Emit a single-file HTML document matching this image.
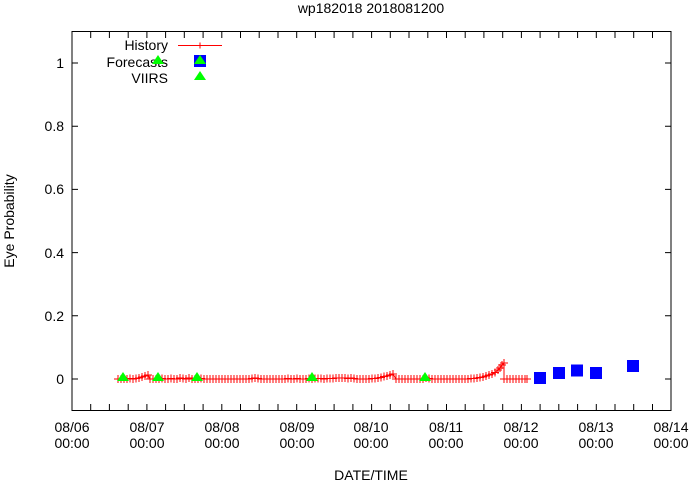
<!DOCTYPE html>
<html><head><meta charset="utf-8"><style>
body{margin:0;background:#fff}
svg{display:block;font-family:"Liberation Sans",sans-serif;font-size:14px}
</style></head><body>
<svg width="691" height="482" viewBox="0 0 691 482" xmlns="http://www.w3.org/2000/svg">
<defs>
<marker id="p" markerWidth="8" markerHeight="8" refX="4" refY="4" markerUnits="userSpaceOnUse">
<path d="M0 4H8M4 0V8" stroke="#f00" stroke-width="1"/>
</marker>
</defs>
<text x="371" y="13" text-anchor="middle">wp182018 2018081200</text>
<rect x="72" y="31.5" width="599" height="379" fill="none" stroke="#000" stroke-width="1"/>
<g stroke="#000" stroke-width="1">
<path d="M72 379h6M671 379h-6M72 315.8h6M671 315.8h-6M72 252.6h6M671 252.6h-6M72 189.4h6M671 189.4h-6M72 126.2h6M671 126.2h-6M72 63h6M671 63h-6"/>
<path d="M72 410v-6M90.7 410v-6M109.4 410v-6M128.2 410v-6M146.9 410v-6M165.6 410v-6M184.3 410v-6M203.1 410v-6M221.8 410v-6M240.5 410v-6M259.2 410v-6M278 410v-6M296.7 410v-6M315.4 410v-6M334.1 410v-6M352.9 410v-6M371.6 410v-6M390.3 410v-6M409 410v-6M427.8 410v-6M446.5 410v-6M465.2 410v-6M483.9 410v-6M502.7 410v-6M521.4 410v-6M540.1 410v-6M558.8 410v-6M577.6 410v-6M596.3 410v-6M615 410v-6M633.7 410v-6M652.5 410v-6"/>
<path d="M90.7 32v6M109.4 32v6M128.2 32v6M146.9 32v6M165.6 32v6M184.3 32v6M203.1 32v6M221.8 32v6M240.5 32v6M259.2 32v6M278 32v6M296.7 32v6M315.4 32v6M334.1 32v6M352.9 32v6M371.6 32v6M390.3 32v6M409 32v6M427.8 32v6M446.5 32v6M465.2 32v6M483.9 32v6M502.7 32v6M521.4 32v6M540.1 32v6M558.8 32v6M577.6 32v6M596.3 32v6M615 32v6M633.7 32v6M652.5 32v6"/>
</g>
<g text-anchor="end">
<text x="64" y="384">0</text><text x="64" y="321">0.2</text><text x="64" y="258">0.4</text>
<text x="64" y="194">0.6</text><text x="64" y="131">0.8</text><text x="64" y="68">1</text>
</g>
<g text-anchor="middle">
<text x="72" y="432">08/06</text><text x="72" y="448">00:00</text>
<text x="147" y="432">08/07</text><text x="147" y="448">00:00</text>
<text x="222" y="432">08/08</text><text x="222" y="448">00:00</text>
<text x="297" y="432">08/09</text><text x="297" y="448">00:00</text>
<text x="371" y="432">08/10</text><text x="371" y="448">00:00</text>
<text x="446" y="432">08/11</text><text x="446" y="448">00:00</text>
<text x="521" y="432">08/12</text><text x="521" y="448">00:00</text>
<text x="596" y="432">08/13</text><text x="596" y="448">00:00</text>
<text x="671" y="432">08/14</text><text x="671" y="448">00:00</text>
<text x="371" y="480">DATE/TIME</text>
<text transform="translate(14 221) rotate(-90)">Eye Probability</text>
</g>
<polyline fill="none" stroke="#f00" stroke-width="1" marker-start="url(#p)" marker-mid="url(#p)" marker-end="url(#p)"
points="118,379 121,379 124,379 127,379 130,378.5 133,379 136,378.5 139,378 142,377 145,376 148,375 150,379 153,379 156,379 159,379 162,378.5 165,379 168,379 171,378.5 174,379 177,379 180,378 183,378.5 186,379 189,378 192,379 195,379 198,379 201,378.5 204,379 207,379 210,379 213,379 216,379 219,379 222,379 225,379 228,379 231,379 234,379 237,379 240,379 243,379 246,379 249,379 252,378.5 255,378 258,378.5 261,379 264,379 267,379 270,379 273,379 276,379 279,379 282,379 285,379 288,378.5 291,379 294,379 297,378.5 300,379 303,379 306,379 309,378.5 312,379 315,378.5 318,378.5 321,378.5 324,379 327,378.5 330,378.5 333,378.5 336,378 339,378 342,378 345,378 348,378.5 351,378 354,378.5 357,379 360,379 363,379 366,379 369,379 372,378.5 375,378.5 378,378 381,377.5 384,376.5 387,376 390,375 393,374 396,379 399,379 402,379 405,379 408,379 411,379 414,379 417,379 420,379 423,379 426,378 429,378.5 432,379 435,379 438,379 441,379 444,379 447,379 450,379 453,379 456,379 459,379 462,379 465,379 468,379 471,378.5 474,378.5 477,378 480,377.5 483,377 486,376 489,375 492,374 495,372.5 498,370 500,368 502,365 504,363 504,379 507,379 510,379 513,379 516,379 519,379 522,379 525,379 527,379"/>
<g fill="#0f0">
<path d="M123 372l6 9h-12z"/><path d="M158 372l6 9h-12z"/><path d="M197 372l6 9h-12z"/>
<path d="M312 372l6 9h-12z"/><path d="M425 372l6 9h-12z"/>
</g>
<g fill="#00f">
<rect x="534" y="372" width="12" height="12"/><rect x="553" y="367" width="12" height="12"/>
<rect x="571" y="364.5" width="12" height="12"/><rect x="590" y="367" width="12" height="12"/>
<rect x="627" y="360" width="12" height="12"/>
</g>
<g text-anchor="end">
<text x="168" y="50">History</text><text x="168" y="67">Forecasts</text><text x="168" y="83">VIIRS</text>
</g>
<path d="M178 45.5H222" stroke="#f00" stroke-width="1"/>
<path d="M197 45.5h6M200 42.5v6" stroke="#f00"/>
<rect x="194" y="55" width="12" height="12" fill="#00f"/>
<g fill="#0f0">
<path d="M158 55l6 9h-12z"/><path d="M200 55l6 9h-12z"/><path d="M200 71l6 9h-12z"/>
</g>
</svg>
</body></html>
